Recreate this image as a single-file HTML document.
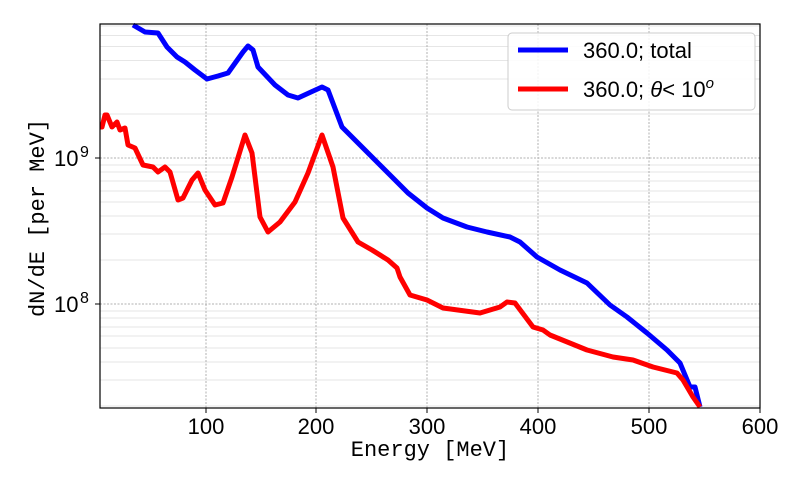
<!DOCTYPE html>
<html><head><meta charset="utf-8"><style>html,body{margin:0;padding:0;background:#fff}</style></head><body>
<svg width="800" height="480" xmlns="http://www.w3.org/2000/svg" font-family="Liberation Sans, DejaVu Sans, sans-serif">
<rect width="800" height="480" fill="#fff"/>
<g stroke="#e6e6e6" stroke-width="1">
<line x1="100" x2="760" y1="26" y2="26"/><line x1="100" x2="760" y1="35.5" y2="35.5"/><line x1="100" x2="760" y1="46.5" y2="46.5"/><line x1="100" x2="760" y1="60.5" y2="60.5"/><line x1="100" x2="760" y1="79" y2="79"/><line x1="100" x2="760" y1="114" y2="114"/>
<line x1="100" x2="760" y1="165" y2="165"/><line x1="100" x2="760" y1="172" y2="172"/><line x1="100" x2="760" y1="181" y2="181"/><line x1="100" x2="760" y1="191" y2="191"/><line x1="100" x2="760" y1="202" y2="202"/><line x1="100" x2="760" y1="216" y2="216"/><line x1="100" x2="760" y1="234" y2="234"/><line x1="100" x2="760" y1="260" y2="260"/>
<line x1="100" x2="760" y1="311" y2="311"/><line x1="100" x2="760" y1="318" y2="318"/><line x1="100" x2="760" y1="327" y2="327"/><line x1="100" x2="760" y1="336" y2="336"/><line x1="100" x2="760" y1="348" y2="348"/><line x1="100" x2="760" y1="362" y2="362"/><line x1="100" x2="760" y1="380" y2="380"/><line x1="100" x2="760" y1="406" y2="406"/>
</g>
<g stroke="#b0b0b0" stroke-width="1" stroke-dasharray="2,1.5">
<line x1="206" x2="206" y1="24" y2="408"/><line x1="316" x2="316" y1="24" y2="408"/><line x1="427" x2="427" y1="24" y2="408"/><line x1="538" x2="538" y1="24" y2="408"/><line x1="649" x2="649" y1="24" y2="408"/>
<line x1="100" x2="760" y1="158" y2="158"/><line x1="100" x2="760" y1="304" y2="304"/>
</g>
<g fill="none" stroke-width="5" stroke-linejoin="round" stroke-linecap="butt">
<polyline stroke="#0000ff" points="133,25 145,32 158,33 167,47 177,57 185,62 195,70 207,79 218,76 228,73 243,52 248,46 253,50 258,67 275,85 288,95 298,98 311,92 322,87 328,90 342,127 372,157 408,193 427,208 443,218 467,227 487,232 510,237 520,242 537,257 560,270 587,283 610,305 627,317 647,333 667,350 680,363 690,387 695,387 700,407"/>
<polyline stroke="#ff0000" points="100,127 102,127 105,115 107,115 112,127 117,122 120,130 125,128 128,145 135,148 143,165 153,167 158,172 165,167 170,172 178,200 183,198 192,180 198,173 205,190 215,205 223,203 232,177 245,135 252,153 260,217 268,232 280,222 295,202 308,173 322,135 333,167 343,218 358,242 372,250 388,260 397,268 400,277 410,295 427,300 443,308 480,313 500,307 507,302 515,303 533,327 543,330 550,335 587,350 613,357 633,360 653,367 677,373 683,380 693,397 700,407"/>
</g>
<rect x="100" y="24" width="660" height="384" fill="none" stroke="#000" stroke-width="1.2"/>
<g stroke="#000" stroke-width="1">
<line x1="206" x2="206" y1="408" y2="413"/><line x1="316" x2="316" y1="408" y2="413"/><line x1="427" x2="427" y1="408" y2="413"/><line x1="538" x2="538" y1="408" y2="413"/><line x1="649" x2="649" y1="408" y2="413"/><line x1="760" x2="760" y1="408" y2="413"/>
<line x1="95" x2="100" y1="158" y2="158"/><line x1="95" x2="100" y1="304" y2="304"/>
</g>
<g font-size="22" fill="#000" text-anchor="middle">
<text x="206" y="434">100</text><text x="316" y="434">200</text><text x="427" y="434">300</text><text x="538" y="434">400</text><text x="649" y="434">500</text><text x="760" y="434">600</text>
</g>
<g font-size="22" fill="#000">
<text x="54" y="166">10</text><text x="80" y="157" font-size="16">9</text>
<text x="54" y="312">10</text><text x="80" y="303" font-size="16">8</text>
</g>
<text x="430" y="456" font-family="Liberation Mono, DejaVu Sans Mono, monospace" font-size="22" text-anchor="middle">Energy [MeV]</text>
<text transform="translate(44,218) rotate(-90)" font-family="Liberation Mono, DejaVu Sans Mono, monospace" font-size="22" text-anchor="middle">dN/dE [per MeV]</text>
<rect x="508" y="33" width="247" height="77" rx="4" fill="#fff" fill-opacity="0.85" stroke="#ccc"/>
<line x1="518" x2="568" y1="50" y2="50" stroke="#0000ff" stroke-width="5"/>
<line x1="518" x2="568" y1="89" y2="89" stroke="#ff0000" stroke-width="5"/>
<text x="583" y="58" font-size="22">360.0; total</text>
<text x="583" y="97" font-size="22">360.0; <tspan font-style="italic">θ</tspan>&lt; 10<tspan font-size="15" dy="-9" font-style="italic">o</tspan></text>
</svg>
</body></html>
